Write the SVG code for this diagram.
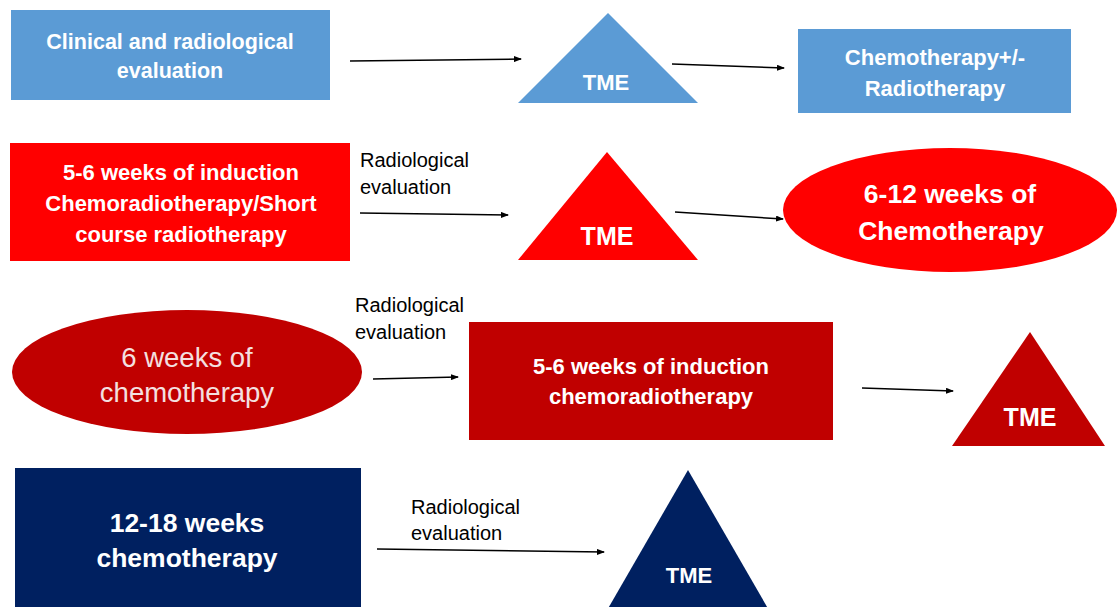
<svg xmlns="http://www.w3.org/2000/svg" width="1118" height="607" viewBox="0 0 1118 607">
<defs>
<marker id="ah" markerWidth="8" markerHeight="6" refX="7" refY="3" orient="auto" markerUnits="userSpaceOnUse">
<path d="M0,0 L8,3 L0,6 Z" fill="#000"/>
</marker>
<style>
.b{font-family:"Liberation Sans",Arial,sans-serif;font-weight:bold;fill:#fff;text-anchor:middle}
.r{font-family:"Liberation Sans",Arial,sans-serif;fill:#F4E0E0;text-anchor:middle;font-size:27.5px}
.n{font-family:"Liberation Sans",Arial,sans-serif;fill:#000;font-size:20px}
.c{stroke:#000;stroke-width:1.5;fill:none;marker-end:url(#ah)}
</style>
</defs>
<rect width="1118" height="607" fill="#fff"/>
<g id="n1"><rect x="11" y="10" width="319" height="90" fill="#5B9BD5"/>
<text class="b" font-size="21.5" x="170" y="49">Clinical and radiological</text>
<text class="b" font-size="21.5" x="170" y="78">evaluation</text></g>
<g id="n2"><polygon points="608,13 698,103 518,103" fill="#5B9BD5"/>
<text class="b" font-size="22" x="606" y="90">TME</text></g>
<g id="n3"><rect x="798" y="29" width="273" height="84" fill="#5B9BD5"/>
<text class="b" font-size="22" x="935" y="65">Chemotherapy+/-</text>
<text class="b" font-size="22" x="935" y="96">Radiotherapy</text></g>

<g id="n4"><rect x="10" y="143" width="340" height="118" fill="#FF0000"/>
<text class="b" font-size="22" x="181" y="180">5-6 weeks of induction</text>
<text class="b" font-size="22" x="181" y="211">Chemoradiotherapy/Short</text>
<text class="b" font-size="22" x="181" y="242">course radiotherapy</text></g>
<g id="n5"><polygon points="607,152 698,260 518,260" fill="#FF0000"/>
<text class="b" font-size="25" x="607" y="245">TME</text></g>
<g id="n6"><ellipse cx="950" cy="210" rx="167" ry="62" fill="#FF0000"/>
<text class="b" font-size="26.5" x="950" y="203">6-12 weeks of</text>
<text class="b" font-size="26.5" x="951" y="240">Chemotherapy</text></g>

<g id="n7"><ellipse cx="187" cy="372" rx="175" ry="62" fill="#C00000"/>
<text class="r" x="187" y="367">6 weeks of</text>
<text class="r" x="187" y="402">chemotherapy</text></g>
<g id="n8"><rect x="469" y="322" width="364" height="118" fill="#C00000"/>
<text class="b" font-size="22" x="651" y="374">5-6 weeks of induction</text>
<text class="b" font-size="22" x="651" y="404">chemoradiotherapy</text></g>
<g id="n9"><polygon points="1030,332 1105,446 952,446" fill="#C00000"/>
<text class="b" font-size="25" x="1030" y="426">TME</text></g>

<g id="n10"><rect x="15" y="468" width="346" height="150" fill="#002060"/>
<text class="b" font-size="26.5" x="187" y="532">12-18 weeks</text>
<text class="b" font-size="26.5" x="187" y="567">chemotherapy</text></g>
<g id="n11"><polygon points="688,470 770,612 606,612" fill="#002060"/>
<text class="b" font-size="22" x="689" y="583">TME</text></g>

<g id="labels">
<text class="n" x="360" y="167">Radiological</text>
<text class="n" x="360" y="194">evaluation</text>
<text class="n" x="355" y="312">Radiological</text>
<text class="n" x="355" y="339">evaluation</text>
<text class="n" x="411" y="514">Radiological</text>
<text class="n" x="411" y="540">evaluation</text>
</g>

<g id="connectors">
<path class="c" d="M350,61 L521,59"/>
<path class="c" d="M672,64 L784,68"/>
<path class="c" d="M360,213 L508,215"/>
<path class="c" d="M675,212 L783,219"/>
<path class="c" d="M373,379 L458,377"/>
<path class="c" d="M862,388 L953,391"/>
<path class="c" d="M377,549 L604,552"/>
</g>
</svg>
